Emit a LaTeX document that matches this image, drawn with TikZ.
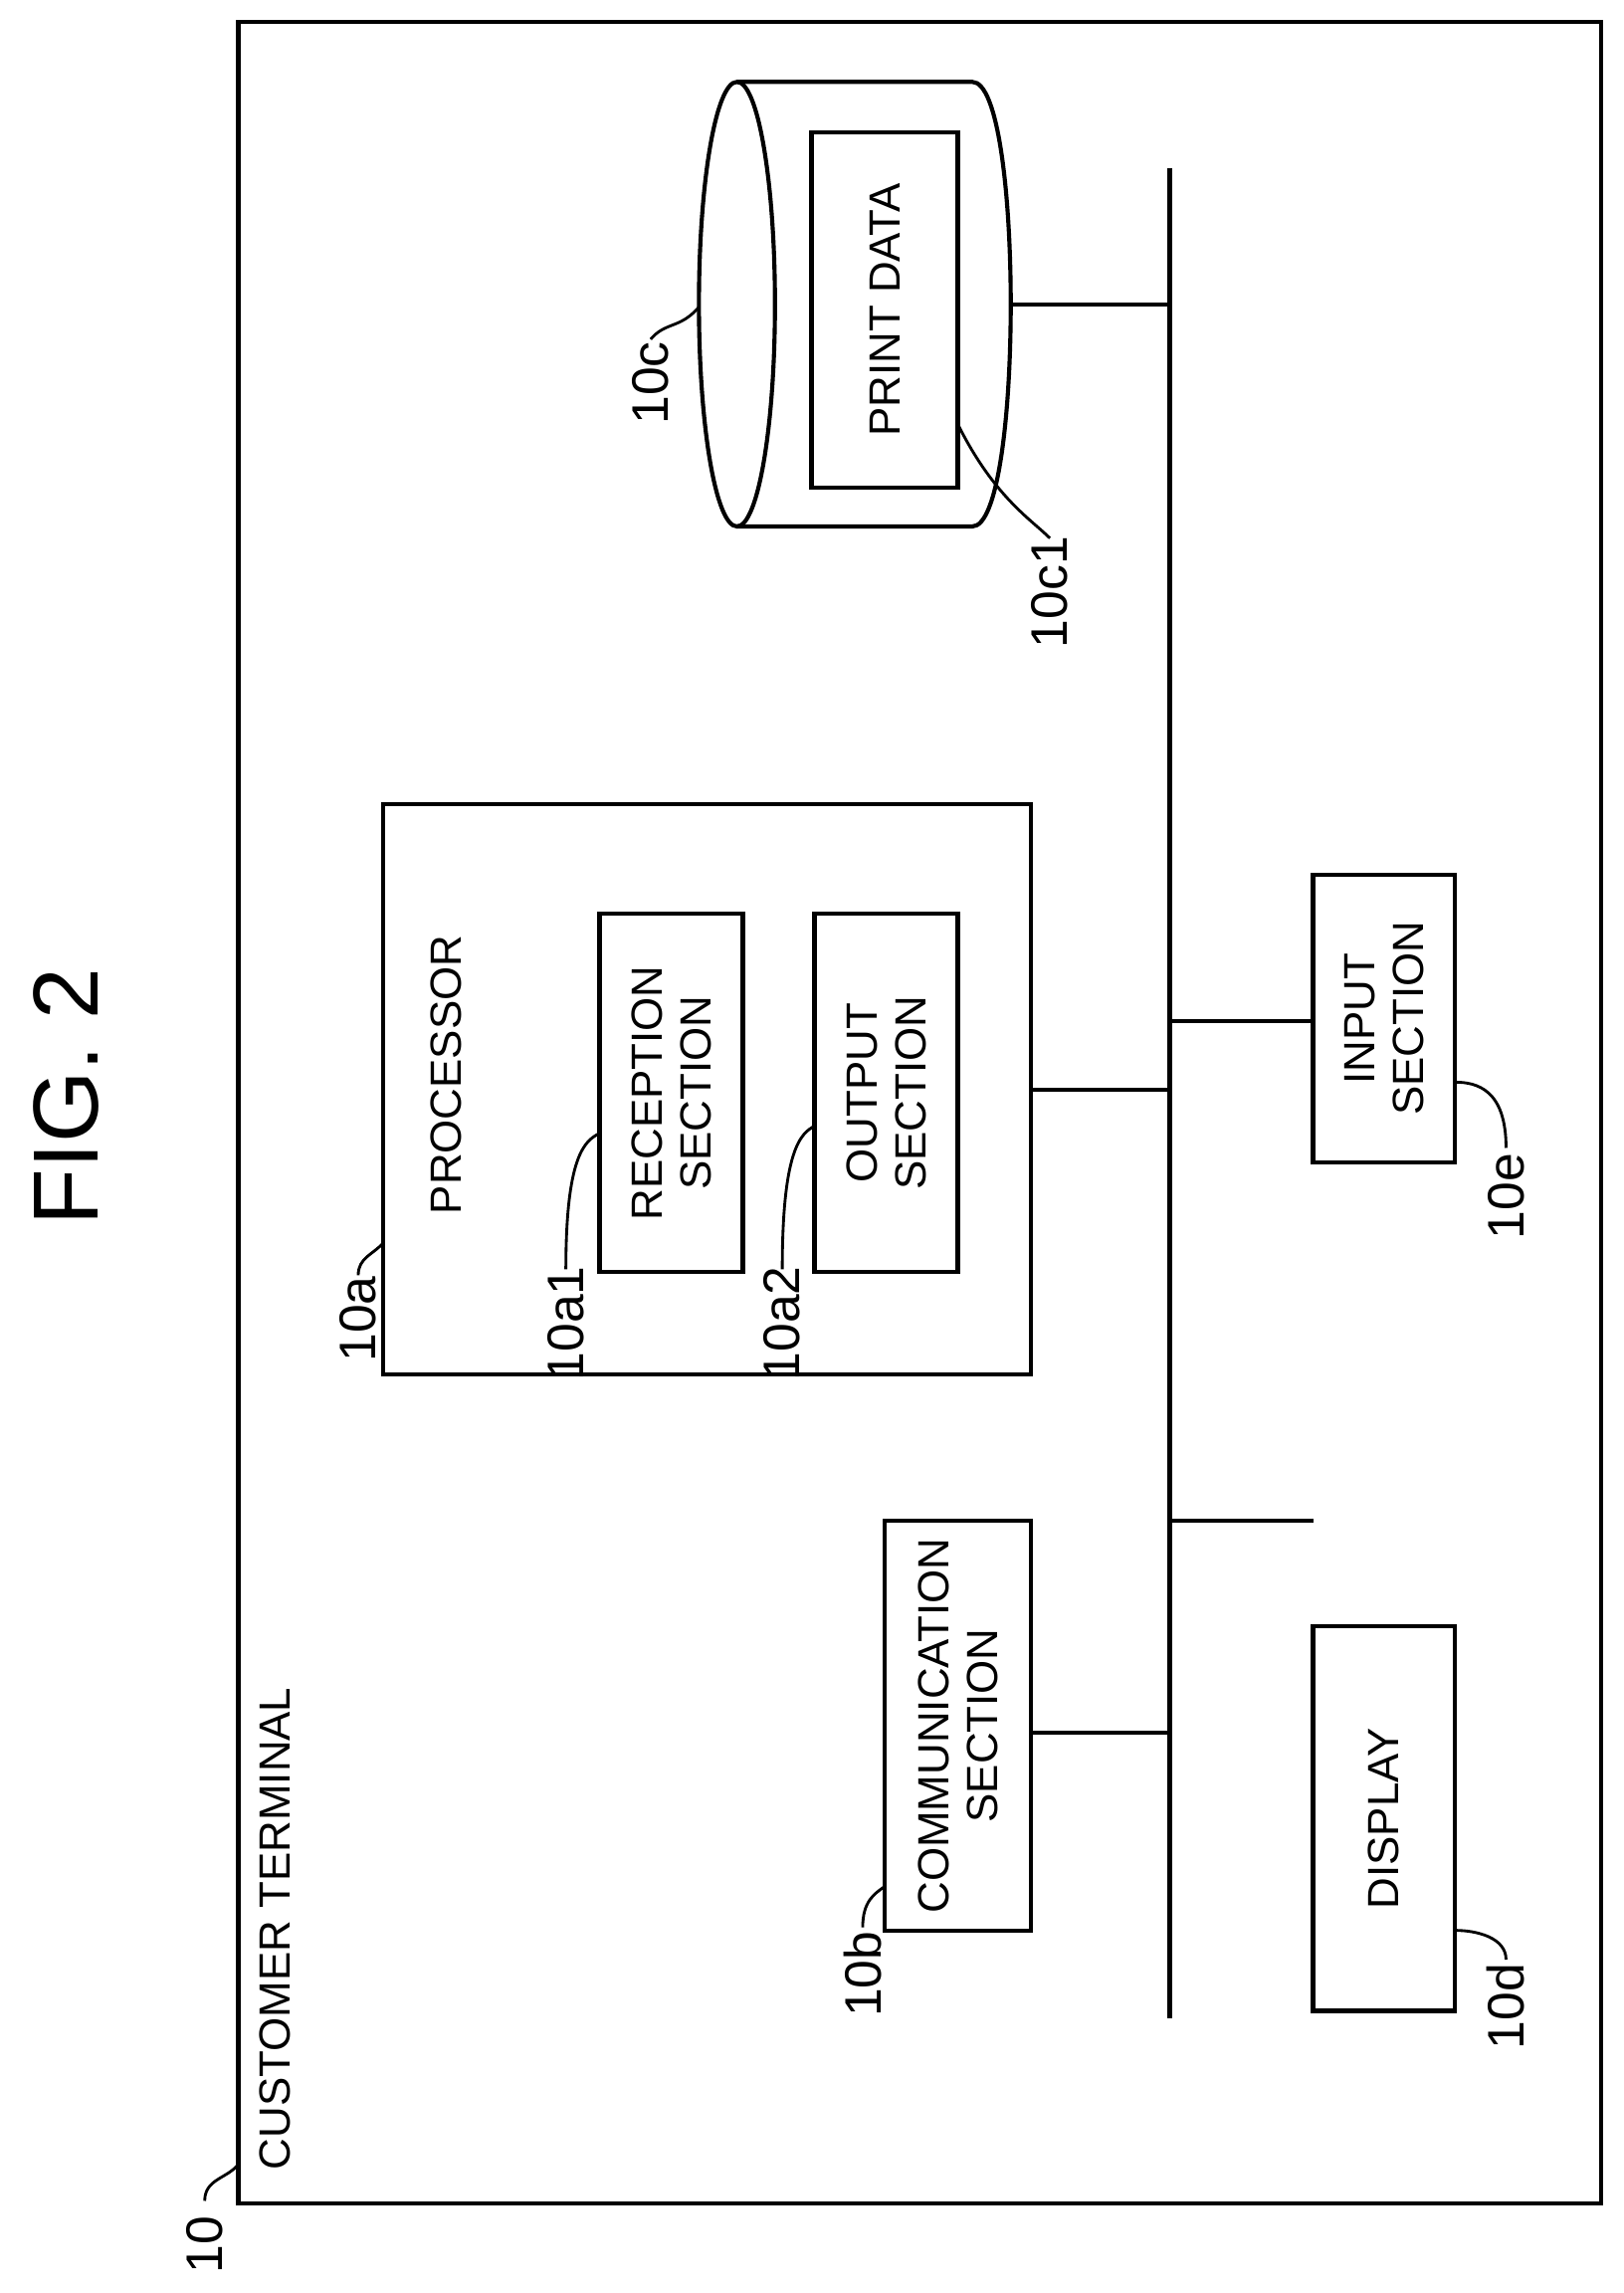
\documentclass[tikz,border=0pt]{standalone}
\usepackage{fontspec}
\setmainfont{Liberation Sans}
\begin{document}
\begin{tikzpicture}[x=0.02cm,y=-0.02cm,line width=1.6pt,
  box/.style={draw,rectangle},
  txt/.style={rotate=90,font=\fontsize{17}{19}\selectfont,align=center,inner sep=0},
  lab/.style={rotate=90,font=\fontsize{20}{22}\selectfont,inner sep=0},
  ld/.style={line width=1.1pt}]
\useasboundingbox (0,0) rectangle (1110,1568);
\node[rotate=90,font=\fontsize{36}{40}\selectfont] (fig) at (45,750) {FIG. 2};
\draw (163,15) rectangle (1095,1507);
\coordinate (bc) at (163,1480);
\node[lab] (l10) at (140,1535) {10};
\draw[ld] (140,1505) .. controls (140,1490) and (155,1490) .. (bc);
\node[txt,anchor=south west] (ct) at (200,1485) {CUSTOMER TERMINAL};
% bus
\coordinate (bt) at (800,115); \coordinate (bb) at (800,1380);
\draw (bt) -- (bb);
% cylinder
\draw (504,208) ellipse (26 and 152);
\draw (504,56) -- (665,56) .. controls (700,56) and (700,360) .. (665,360) -- (504,360);
\node[box,minimum width=100*0.02cm,minimum height=243*0.02cm] (pd) at (605,212) {};
\node[txt] at (pd) {PRINT DATA};
\coordinate (cr) at (691,208);
\draw (cr) -- (800,208);
\node[lab] (l10c) at (445,262) {10c};
\draw[ld] (445,232) .. controls (455,220) and (465,225) .. (478,210);
\node[lab] (l10c1) at (718,405) {10c1};
\draw[ld] (718,368) .. controls (705,355) and (680,340) .. (655,290);
% processor
\node[box,minimum width=443*0.02cm,minimum height=390*0.02cm] (proc) at (483.5,745) {};
\node[txt] at (305,735) {PROCESSOR};
\node[box,minimum width=98*0.02cm,minimum height=245*0.02cm] (rec) at (459,747.5) {};
\node[txt] at (rec) {RECEPTION\\SECTION};
\node[box,minimum width=98*0.02cm,minimum height=245*0.02cm] (out) at (606,747.5) {};
\node[txt] at (out) {OUTPUT\\SECTION};
\draw (705,745) -- (800,745);
\node[lab] (l10a) at (245,902) {10a};
\draw[ld] (245,872) .. controls (245,860) and (255,858) .. (262,850);
\node[lab] (l10a1) at (387,905) {10a1};
\draw[ld] (387,868) .. controls (387,790) and (400,780) .. (410,775);
\node[lab] (l10a2) at (535,905) {10a2};
\draw[ld] (535,868) .. controls (535,785) and (548,775) .. (557,770);
% input
\node[box,minimum width=97*0.02cm,minimum height=197*0.02cm] (inp) at (946.5,696.5) {};
\node[txt] at (inp) {INPUT\\SECTION};
\draw (800,698) -- (898,698);
\node[lab] (l10e) at (1030,818) {10e};
\draw[ld] (1030,785) .. controls (1030,745) and (1010,740) .. (995,740);
% communication
\node[box,minimum width=100*0.02cm,minimum height=280*0.02cm] (com) at (655,1180) {};
\node[txt] at (com) {COMMUNICATION\\SECTION};
\draw (705,1185) -- (800,1185);
\node[lab] (l10b) at (590,1350) {10b};
\draw[ld] (590,1318) .. controls (590,1300) and (598,1295) .. (605,1290);
% display
\node[box,minimum width=97*0.02cm,minimum height=263*0.02cm] (dis) at (946.5,1243.5) {};
\node[txt] at (dis) {DISPLAY};
\draw (800,1040) -- (898,1040);
\node[lab] (l10d) at (1030,1372) {10d};
\draw[ld] (1030,1340) .. controls (1030,1325) and (1010,1320) .. (995,1320);
\end{tikzpicture}
\end{document}
